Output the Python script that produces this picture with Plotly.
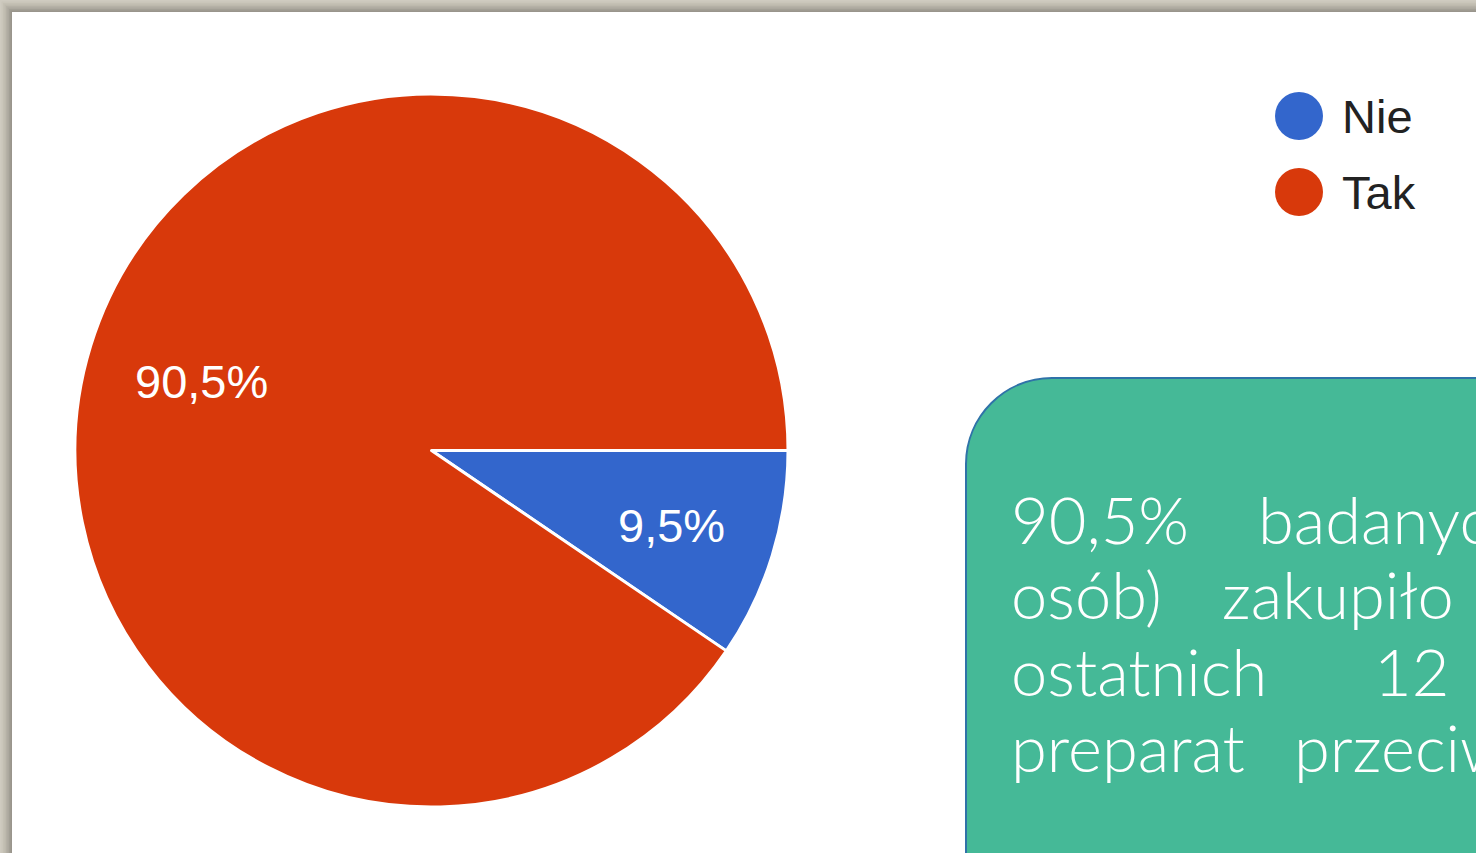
import math
import plotly.graph_objects as go

# Survey answers
labels = ["Nie", "Tak"]
shares = [9.5, 90.5]
colors = ["#3366CC", "#D8390B"]

# Words of the note in the green box, one list per line
note_lines = [
    ["90,5%", "badanych"],
    ["osób)", "zakupiło"],
    ["ostatnich", "12"],
    ["preparat", "przeciw"],
]
note_word_x = [
    [1009, 1256],
    [1009, 1220],
    [1009, 1372],
    [1009, 1292],
]

W, H = 1476, 853
cx, cy, r = 431.5, 450.5, 356.5
start_deg = 90  # first slice starts at 3 o'clock, clockwise

fig = go.Figure()

fig.add_trace(go.Pie(
    labels=labels,
    values=shares,
    sort=False,
    direction="clockwise",
    rotation=start_deg,
    marker=dict(colors=colors, line=dict(color="white", width=3)),
    textinfo="none",
    hoverinfo="label+percent",
    showlegend=False,
    domain=dict(x=[(cx - r) / W, (cx + r) / W], y=[1 - (cy + r) / H, 1 - (cy - r) / H]),
))

# Hidden pixel axes covering the whole page, used for annotations and shapes
fig.add_trace(go.Scatter(x=[0, W], y=[0, H], mode="markers",
                         marker=dict(opacity=0), hoverinfo="skip", showlegend=False))

annotations = []
shapes = []

# Percentage labels at the middle angle of each slice (small text-box offset)
total = sum(shares)
acc = 0.0
for lab, v in zip(labels, shares):
    mid = start_deg + (acc + v / 2) / total * 360
    acc += v
    a = math.radians(mid)
    lx = cx + 0.69 * r * math.sin(a) + 5
    ly = cy - 0.69 * r * math.cos(a) + 3
    txt = f"{v:.1f}%".replace(".", ",")
    annotations.append(dict(x=lx, y=ly, xref="x", yref="y", text=txt, showarrow=False,
                            xanchor="center", yanchor="middle",
                            font=dict(family="Arial", size=47, color="white")))

# Page frame: grey-beige border strips with a soft gradient
frame = ["#cfcbc0", "#cac6ba", "#c4c0b4", "#bdb9ad", "#b5b1a6", "#aca89e", "#a29f95", "#99958c"]
bw = 12 / len(frame)
for i, c in enumerate(frame):
    shapes.append(dict(type="rect", xref="x", yref="y", x0=i * bw, x1=W, y0=i * bw, y1=H,
                       fillcolor=c, line=dict(width=0), layer="below"))
shapes.append(dict(type="rect", xref="x", yref="y", x0=12, x1=W, y0=12, y1=H,
                   fillcolor="white", line=dict(width=0), layer="below"))

# Legend
for i, (lab, c) in enumerate(zip(labels, colors)):
    yy = 116 + i * 76
    shapes.append(dict(type="circle", xref="x", yref="y", x0=1275, x1=1323, y0=yy - 24, y1=yy + 24,
                       fillcolor=c, line=dict(width=0)))
    annotations.append(dict(x=1340, y=yy, xref="x", yref="y", text=lab, showarrow=False,
                            xanchor="left", yanchor="middle",
                            font=dict(family="Arial", size=47, color="#222222")))

# Green note box with rounded top-left and bottom-left corners
x0, y0, rr = 966, 378, 86
k = 0.5523 * rr
box = (f"M {x0 + rr},{y0} L {W + 40},{y0} L {W + 40},{H + 40} L {x0},{H + 40} "
       f"L {x0},{y0 + rr} C {x0},{y0 + rr - k} {x0 + rr - k},{y0} {x0 + rr},{y0} Z")
shapes.append(dict(type="path", xref="x", yref="y", path=box,
                   fillcolor="#45B997", line=dict(color="#2F72A8", width=2)))

baselines = [545, 620, 697, 773]
for words, xs, base in zip(note_lines, note_word_x, baselines):
    for w, xw in zip(words, xs):
        annotations.append(dict(x=xw, y=base + 15, xref="x", yref="y", text=w, showarrow=False,
                                xanchor="left", yanchor="bottom",
                                font=dict(family="Lato", size=65, color="white", weight=300)))

fig.update_layout(
    width=W, height=H,
    margin=dict(l=0, r=0, t=0, b=0),
    paper_bgcolor="white",
    plot_bgcolor="rgba(0,0,0,0)",
    xaxis=dict(range=[0, W], visible=False, fixedrange=True, domain=[0, 1]),
    yaxis=dict(range=[H, 0], visible=False, fixedrange=True, domain=[0, 1]),
    shapes=shapes,
    annotations=annotations,
    showlegend=False,
)

fig.write_html("out.html")
